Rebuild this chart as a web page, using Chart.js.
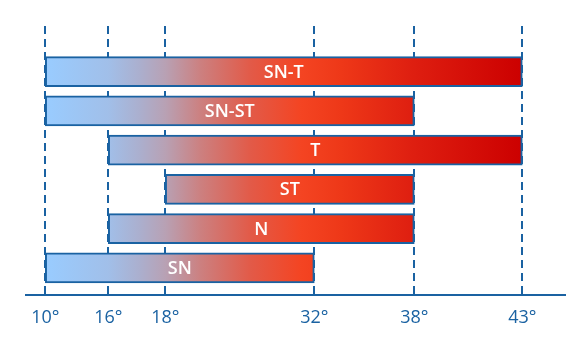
<!DOCTYPE html>
<html>
<head>
<meta charset="utf-8">
<script src="https://cdn.jsdelivr.net/npm/chart.js@4"></script>
<style>
  html,body{margin:0;padding:0;background:#fff;}
  #wrap{width:588px;height:353px;position:relative;}
</style>
</head>
<body>
<div id="wrap"><canvas id="chart"></canvas></div>
<script>
/* ─── DATA ─────────────────────────────── */
const categories = ['SN-T','SN-ST','T','ST','N','SN'];
const rangeStart = [10, 10, 16, 18, 16, 10];
const rangeEnd   = [43, 38, 43, 38, 38, 32];
const tickValues = [10, 16, 18, 32, 38, 43];

/* ─── STYLE ────────────────────────────── */
const BLUE = '#1a62a2';
// where each tick sits along the axis (fraction of plot width)
const TICK_POS = [0.0358, 0.1527, 0.2584, 0.5349, 0.7204, 0.9208];
// gradient colour stops, keyed on axis value
const GRAD = [
  [10,'#99ccff'],[16,'#a1bfe9'],[17.1,'#abafce'],[18,'#b8a1b4'],
  [21.3,'#cc8080'],[26,'#e25a48'],[30.8,'#f44422'],[33.6,'#ee3818'],
  [38,'#de1e10'],[43,'#cc0000']
];

/* ─── PIECEWISE SCALE ──────────────────── */
function valToFrac(v){
  const n = tickValues.length;
  let i = 0;
  if(v > tickValues[n-1]) i = n-2;
  else while(i < n-2 && v > tickValues[i+1]) i++;
  const a = tickValues[i], b = tickValues[i+1];
  return TICK_POS[i] + (v-a)/(b-a)*(TICK_POS[i+1]-TICK_POS[i]);
}
function fracToVal(f){
  const n = TICK_POS.length;
  let i = 0;
  if(f > TICK_POS[n-1]) i = n-2;
  else while(i < n-2 && f > TICK_POS[i+1]) i++;
  const a = TICK_POS[i], b = TICK_POS[i+1];
  return tickValues[i] + (f-a)/(b-a)*(tickValues[i+1]-tickValues[i]);
}
class KnotScale extends Chart.LinearScale {
  getPixelForValue(v){ return v===null ? NaN : this.getPixelForDecimal(valToFrac(v)); }
  getValueForPixel(p){ return fracToVal(this.getDecimalForPixel(p)); }
}
KnotScale.id = 'knot';
Chart.register(KnotScale);

/* ─── GRADIENT ─────────────────────────── */
let gradCache = null, gradKey = '';
function barGradient(ctx){
  const chart = ctx.chart;
  const xs = chart.scales.x;
  if(!chart.chartArea || !xs) return GRAD[0][1];
  const x0 = xs.getPixelForValue(GRAD[0][0]);
  const x1 = xs.getPixelForValue(GRAD[GRAD.length-1][0]);
  const key = x0+'_'+x1;
  if(gradCache && gradKey===key) return gradCache;
  const g = chart.ctx.createLinearGradient(x0,0,x1,0);
  GRAD.forEach(([v,c])=>{
    const p = (xs.getPixelForValue(v)-x0)/(x1-x0);
    g.addColorStop(Math.min(1,Math.max(0,p)), c);
  });
  gradCache = g; gradKey = key;
  return g;
}

/* ─── BAR LABELS ───────────────────────── */
const barLabels = {
  id:'barLabels',
  afterDatasetsDraw(chart){
    const c = chart.ctx;
    const meta = chart.getDatasetMeta(0);
    c.save();
    c.font = '600 18px "Open Sans", sans-serif';
    c.fillStyle = '#ffffff';
    c.textAlign = 'center';
    c.textBaseline = 'middle';
    meta.data.forEach((el,i)=>{
      c.fillText(categories[i], (el.x+el.base)/2, el.y+1);
    });
    c.restore();
  }
};

/* ─── CHART ────────────────────────────── */
new Chart(document.getElementById('chart'),{
  type:'bar',
  data:{
    datasets:[{
      data: categories.map((c,i)=>({ y:i, x:[rangeStart[i], rangeEnd[i]] })),
      backgroundColor: barGradient,
      borderColor: BLUE,
      borderWidth: 2,
      borderSkipped: false,
      barThickness: 30
    }]
  },
  options:{
    indexAxis:'y',
    responsive:true, maintainAspectRatio:false,
    animation:false,
    layout:{ padding:{ left:26, right:23, top:26, bottom:12 } },
    plugins:{ legend:{display:false}, tooltip:{enabled:false} },
    scales:{
      x:{
        type:'knot',
        position:'bottom',
        min:10, max:43,
        offset:false,
        afterBuildTicks: axis=>{ axis.ticks = tickValues.map(v=>({value:v})); },
        grid:{ color:BLUE, lineWidth:2, drawTicks:false },
        border:{ display:true, color:BLUE, width:2, dash:[8,5] },
        ticks:{
          color:BLUE, padding:12,
          font:{ family:'"Open Sans", sans-serif', size:18 },
          maxRotation:0, autoSkip:false,
          callback: v=> v+'°'
        }
      },
      y:{
        type:'linear',
        reverse:true,
        offset:false,
        grid:{ offset:false },
        min:-1.1607, max:5.7015,
        display:false
      }
    }
  },
  plugins:[barLabels]
});
</script>
</body>
</html>
